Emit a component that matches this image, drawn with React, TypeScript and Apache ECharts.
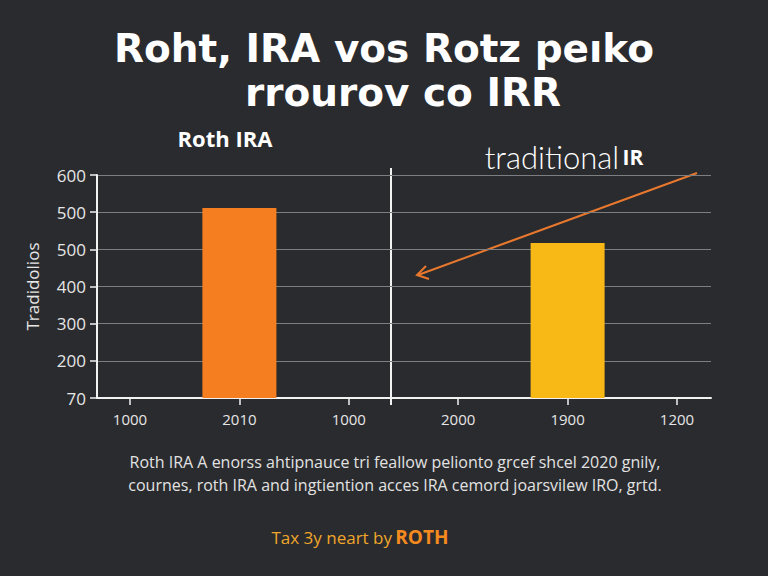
import React, { useEffect, useRef } from "react";
import * as echarts from "echarts";

const xCategories = ["1000", "2010", "1000", "2000", "1900", "1200"];
const rothValues: (number | string)[] = ["-", 511, "-", "-", "-", "-"];
const traditionalValues: (number | string)[] = ["-", "-", "-", "-", 417, "-"];
const yTickLabels = ["70", "200", "300", "400", "500", "500", "600"];
const titleLines = ["Roht, IRA vos Rotz peıko", "rrourov co IRR"];
const bodyLines = [
  "Roth IRA A enorss ahtipnauce tri feallow pelionto grcef shcel 2020 gnily,",
  "cournes, roth IRA and ingtiention acces IRA cemord joarsvilew IRO, grtd.",
];

const BG = "#2a2b2e";
const WHITE = "#f2f2f2";
const GRIDC = "#7d7e80";
const ORANGE = "#f57f20";
const YELLOW = "#f8b816";
const ARROW = "#e8782e";

export default function App() {
  const ref = useRef<HTMLDivElement>(null);
  useEffect(() => {
    document.body.style.margin = "0";
    document.body.style.background = BG;
    if (!ref.current) return;
    const chart = echarts.init(ref.current, null, { renderer: "svg" });
    const yFmt = (v: number) => yTickLabels[Math.round(v / 100)] ?? "";
    const titleStyle = { color: "#ffffff", fontSize: 39, fontWeight: "bold", fontFamily: "DejaVu Sans" };
    chart.setOption({
      animation: false,
      backgroundColor: BG,
      title: [
        { text: titleLines[0], left: "center", top: 24, textStyle: titleStyle },
        { text: titleLines[1], left: 398, textAlign: "center", top: 68, textStyle: titleStyle },
      ],
      grid: [
        { left: 97, right: 57, top: 175, bottom: 178 },
        { left: 130, right: 91, top: 175, bottom: 178 },
      ],
      xAxis: [
        {
          type: "value",
          gridIndex: 0,
          min: 0,
          max: 1,
          axisLine: { show: true, onZero: false, lineStyle: { color: WHITE, width: 2 } },
          axisTick: { show: false },
          axisLabel: { show: false },
          splitLine: { show: false },
        },
        {
          type: "category",
          gridIndex: 1,
          data: xCategories,
          boundaryGap: false,
          axisLine: { show: false },
          axisTick: { show: true, length: 7, lineStyle: { color: WHITE, width: 1.5 } },
          axisLabel: { color: "#e6e6e6", fontSize: 15, fontFamily: "Open Sans", margin: 13 },
        },
      ],
      yAxis: [
        {
          type: "value",
          gridIndex: 0,
          min: 0,
          max: 600,
          interval: 100,
          name: "Tradidolios",
          nameLocation: "middle",
          nameGap: 56,
          nameRotate: 90,
          nameTextStyle: { color: "#e6e6e6", fontSize: 17, fontFamily: "Open Sans" },
          axisLine: { show: true, lineStyle: { color: WHITE, width: 2 } },
          axisTick: { show: true, length: 7, lineStyle: { color: WHITE, width: 1.5 } },
          axisLabel: { color: "#e6e6e6", fontSize: 17, fontFamily: "Open Sans", margin: 11, formatter: yFmt },
          splitLine: { show: true, lineStyle: { color: GRIDC, width: 1.2 } },
        },
        {
          type: "value",
          gridIndex: 1,
          min: 0,
          max: 600,
          interval: 100,
          show: false,
          splitLine: { show: false },
        },
      ],
      series: [
        {
          name: "Roth IRA",
          type: "bar",
          xAxisIndex: 1,
          yAxisIndex: 1,
          data: rothValues,
          barWidth: 74,
          barGap: "-100%",
          itemStyle: { color: ORANGE },
        },
        {
          name: "Traditional IRA",
          type: "bar",
          xAxisIndex: 1,
          yAxisIndex: 1,
          data: traditionalValues,
          barWidth: 74,
          barGap: "-100%",
          itemStyle: { color: YELLOW },
        },
      ],
      graphic: [
        {
          type: "line",
          shape: { x1: 391, y1: 168, x2: 391, y2: 405 },
          style: { stroke: WHITE, lineWidth: 2 },
        },
        {
          type: "text",
          x: 225,
          y: 138,
          style: {
            text: "Roth IRA",
            fill: "#ffffff",
            fontSize: 22,
            fontWeight: "bold",
            fontFamily: "Open Sans",
            align: "center",
            verticalAlign: "middle",
          },
        },
        {
          type: "text",
          x: 564,
          y: 157,
          style: {
            text: "{a|traditional} {b|IR}",
            align: "center",
            verticalAlign: "middle",
            rich: {
              a: { fill: "#ffffff", fontSize: 31, fontFamily: "Lato", fontWeight: 300 },
              b: { fill: "#ffffff", fontSize: 21, fontFamily: "Open Sans", fontWeight: "bold" },
            },
          },
        },
        {
          type: "line",
          shape: { x1: 697, y1: 173, x2: 418, y2: 275 },
          style: { stroke: ARROW, lineWidth: 2 },
        },
        {
          type: "polyline",
          shape: { points: [[426, 266], [417, 275], [429, 279]] },
          style: { stroke: ARROW, lineWidth: 2, fill: "none" },
        },
        {
          type: "text",
          x: 395,
          y: 462,
          style: {
            text: bodyLines[0],
            fill: "#e2e2e2",
            fontSize: 16,
            fontFamily: "Open Sans",
            align: "center",
            verticalAlign: "middle",
          },
        },
        {
          type: "text",
          x: 395,
          y: 485,
          style: {
            text: bodyLines[1],
            fill: "#e2e2e2",
            fontSize: 16,
            fontFamily: "Open Sans",
            align: "center",
            verticalAlign: "middle",
          },
        },
        {
          type: "text",
          x: 360,
          y: 537,
          style: {
            text: "{a|Tax 3y neart by} {b|ROTH}",
            align: "center",
            verticalAlign: "middle",
            rich: {
              a: { fill: "#f0a62a", fontSize: 17, fontFamily: "Open Sans" },
              b: { fill: "#f58a1f", fontSize: 19, fontWeight: "bold", fontFamily: "Open Sans" },
            },
          },
        },
      ],
    });
    return () => chart.dispose();
  }, []);
  return <div ref={ref} style={{ width: 768, height: 576 }} />;
}
